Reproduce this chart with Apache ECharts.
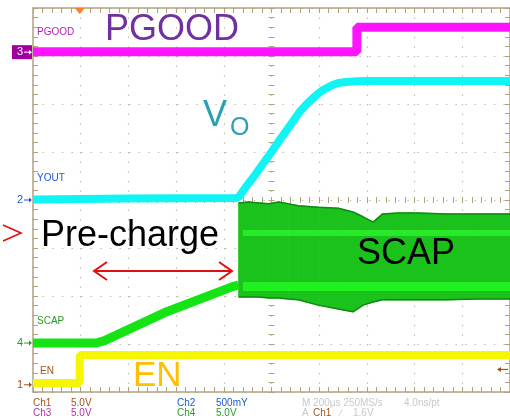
<!DOCTYPE html>
<html><head><meta charset="utf-8">
<script src="https://cdn.jsdelivr.net/npm/echarts@6/dist/echarts.min.js"></script>
<style>html,body{margin:0;padding:0;background:#fff;overflow:hidden}#c{width:510px;height:419px}</style>
</head><body><div id="c"></div>
<script>
// All values in screen divisions: x 0..10 (200us/div), y 0..8 from bottom
const pgoodX = [0, 6.79, 6.79, 10];
const pgoodY = [7.09, 7.09, 7.60, 7.60];
const voutX = [0, 2.0, 4.27, 4.33, 4.375, 4.5, 4.625, 4.81, 5.0, 5.15, 5.31, 5.46, 5.6, 5.75, 5.875, 5.98, 6.08, 6.19, 6.29, 6.42, 6.56, 6.8, 7.02, 10];
const voutY = [4.01, 4.03, 4.04, 4.08, 4.15, 4.32, 4.48, 4.74, 5.0, 5.22, 5.44, 5.65, 5.85, 6.01, 6.125, 6.22, 6.29, 6.35, 6.40, 6.44, 6.46, 6.475, 6.48, 6.48];
const scapX = [0, 1.33, 1.5, 2.75, 4.17, 4.31];
const scapY = [1.02, 1.02, 1.07, 1.65, 2.19, 2.23];
const enX = [0, 0.98, 0.98, 10];
const enY = [0.19, 0.19, 0.77, 0.77];
// SCAP switching band envelope after pre-charge
const bandX   = [4.31, 4.52, 4.73, 4.94, 5.15, 5.35, 5.56, 5.98, 6.40, 6.71, 6.92, 7.13, 7.33, 7.65, 8.06, 8.69, 9.31, 10];
const bandTop = [3.94, 3.96, 3.94, 3.92, 3.96, 3.92, 3.88, 3.85, 3.83, 3.75, 3.65, 3.54, 3.71, 3.73, 3.73, 3.71, 3.71, 3.71];
const bandBot = [1.98, 1.98, 1.98, 1.96, 1.96, 1.94, 1.92, 1.81, 1.73, 1.67, 1.81, 1.875, 1.92, 1.92, 1.92, 1.92, 1.94, 1.94];
const stripeX = [4.4, 10];
const stripeHi = [3.31, 3.31];
const stripeLo = [2.2, 2.2];
// channel ground reference levels (div): ch1, ch2, ch3, ch4
const refLevels = [0.15, 4.0, 7.08, 1.02];
const trigLevel = 0.47;
const trigPos = 0.98;

const zip = (a, b) => a.map((v, i) => [v, b[i]]);
const TICK = '#b0a27e', DOT = '#c6bdaa';
const FONT = '"Liberation Sans", Arial, sans-serif';

function xa(o) {
  return Object.assign({type:'value', min:0, max:10, interval:1, position:'bottom',
    axisLine:{show:true, onZero:false, lineStyle:{color:TICK, width:1.5}},
    axisTick:{show:true, inside:true, length:5, lineStyle:{color:TICK}},
    minorTick:{show:true, splitNumber:5, length:5, lineStyle:{color:TICK}},
    axisLabel:{show:false}, splitLine:{show:false}}, o);
}
function ya(o) {
  return Object.assign({type:'value', min:0, max:8, interval:1, position:'left',
    axisLine:{show:true, onZero:false, lineStyle:{color:TICK, width:1.5}},
    axisTick:{show:true, inside:true, length:5, lineStyle:{color:TICK}},
    minorTick:{show:true, splitNumber:5, length:5, lineStyle:{color:TICK}},
    axisLabel:{show:false}, splitLine:{show:false}}, o);
}
const dotted = {show:true, lineStyle:{color:DOT, type:[1.5, 8.1], width:1.2}};
const centerLine = {show:true, onZeroAxisIndex:2, onZero:true, lineStyle:{color:'rgba(0,0,0,0)'}};
const cTick = (inside) => ({axisTick:{inside, length:3, lineStyle:{color:TICK}}, minorTick:{show:true, splitNumber:5, length:3, lineStyle:{color:TICK}}});

const chart = echarts.init(document.getElementById('c'));
const line = (name, x, y, color, width, extra) => Object.assign({
  name, type:'line', data: zip(x, y), symbol:'none', silent:true,
  xAxisIndex:0, yAxisIndex:0, lineStyle:{color, width}, z:3}, extra || {});

const BAND = '#1cc21c';
chart.setOption({
  animation:false,
  backgroundColor:'#fff',
  grid:{left:33, top:8, width:480, height:384, show:false},
  xAxis:[
    xa({splitLine:dotted}),
    xa({position:'top'}),
    xa(Object.assign({min:-5, max:5, axisLine:centerLine}, cTick(true))),
    xa(Object.assign({min:-5, max:5, axisLine:centerLine}, cTick(false)))
  ],
  yAxis:[
    ya({splitLine:dotted}),
    ya({position:'right'}),
    ya(Object.assign({min:-4, max:4, axisLine:centerLine}, cTick(true))),
    ya(Object.assign({min:-4, max:4, axisLine:centerLine}, cTick(false)))
  ],
  series:[
    line('PGOOD', pgoodX, pgoodY, '#ff14ff', 9),
    line('VOUT', voutX, voutY, '#10f4f4', 8),
    line('SCAP', scapX, scapY, '#14e414', 9),
    line('EN', enX, enY, '#f6f600', 8),
    {
      name:'SCAP band', type:'custom', xAxisIndex:0, yAxisIndex:0, silent:true, z:2,
      data: bandX.map((x, i) => [x, bandTop[i], bandBot[i]]),
      encode:{x:0, y:[1, 2]},
      renderItem(params, api) {
        const i = params.dataIndex;
        if (i >= bandX.length - 1) return null;
        const pts = [
          api.coord([bandX[i], bandTop[i]]), api.coord([bandX[i + 1], bandTop[i + 1]]),
          api.coord([bandX[i + 1], bandBot[i + 1]]), api.coord([bandX[i], bandBot[i]])
        ];
        return {type:'polygon', shape:{points:pts}, style:{fill:BAND, stroke:BAND, lineWidth:0.8}};
      }
    },
    line('SCAP band top', bandX, bandTop, '#0e8a0e', 1.5),
    line('SCAP band bottom', bandX, bandBot, '#0e8a0e', 1.5),
    line('SCAP stripe hi', stripeX, stripeHi, '#28ea28', 6, {z:4}),
    line('SCAP stripe lo', stripeX, stripeLo, '#20f020', 9, {z:4})
  ]
});

const P = (x, y) => chart.convertToPixel({seriesIndex:0}, [x, y]);
const txt = (text, x, y, size, fill, extra) => Object.assign({type:'text', z:100,
  style:{text, x, y, fill, font: size + 'px ' + FONT, verticalAlign:'middle', align:'left'}}, extra || {});
const arrow = (x, y, color) => ({type:'polyline', z:100, shape:{points:[[x, y], [x + 7, y]]},
  style:{stroke:color, lineWidth:1}});
const head = (x, y, color) => ({type:'polygon', z:100, shape:{points:[[x + 8, y], [x + 5, y - 2.5], [x + 5, y + 2.5]]},
  style:{fill:color}});

const chColors = ['#a0521e', '#2058d0', '#ffffff', '#2a9a2a'];
const g = [];
refLevels.forEach((lv, i) => {
  const y = P(0, lv)[1];
  if (i === 2) g.push({type:'rect', z:99, shape:{x:12, y:y - 7, width:20, height:14}, style:{fill:'#a000a0'}});
  g.push(txt(String(i + 1), 17, y, 11, chColors[i]));
  g.push(arrow(24, y, chColors[i]));
  g.push(head(24, y, chColors[i]));
});
// trigger markers
const ty = P(10, trigLevel)[1];
g.push({type:'polyline', z:100, shape:{points:[[498, ty], [508, ty]]}, style:{stroke:'#a0521e', lineWidth:1.2}});
g.push({type:'polygon', z:100, shape:{points:[[497, ty], [501, ty - 2.5], [501, ty + 2.5]]}, style:{fill:'#a0521e'}});
const tx = P(trigPos, 8)[0];
g.push({type:'polygon', z:100, shape:{points:[[tx - 5, 8], [tx + 5, 8], [tx, 14]]}, style:{fill:'#ff7f27'}});

// channel labels
g.push(txt('PGOOD', 37, 32, 10, '#b020b0'));
g.push(txt('YOUT', 37, 178, 10, '#2058d0'));
g.push(txt('SCAP', 37, 321, 10, '#2a9a2a'));
g.push(txt('EN', 40, 371, 10, '#a0521e'));

// annotations
g.push(txt('PGOOD', 105, 30, 36, '#7030a0'));
g.push(txt('V', 203, 116, 36, '#2aa0b4'));
g.push(txt('O', 230, 128, 25, '#2aa0b4'));
g.push(txt('Pre-charge', 41, 236, 36, '#000'));
g.push(txt('SCAP', 357, 254, 36, '#000'));
g.push(txt('EN', 133, 376, 35, '#ffc000'));
// red double arrow
const red = '#e01010';
g.push({type:'polyline', z:100, shape:{points:[[94, 271], [232, 271]]}, style:{stroke:red, lineWidth:2}});
g.push({type:'polyline', z:100, shape:{points:[[107, 262], [94, 271], [107, 280]]}, style:{stroke:red, lineWidth:2, fill:null}});
g.push({type:'polyline', z:100, shape:{points:[[219, 262], [232, 271], [219, 280]]}, style:{stroke:red, lineWidth:2, fill:null}});
g.push({type:'polyline', z:100, shape:{points:[[3, 225], [21, 233], [3, 241]]}, style:{stroke:red, lineWidth:1.6, fill:null}});

// bottom readout
const r1 = 403, r2 = 413.5, fs = 10;
g.push(txt('Ch1', 33, r1, fs, '#a0521e'));
g.push(txt('5.0V', 71, r1, fs, '#a0521e'));
g.push(txt('Ch3', 33, r2, fs, '#b030b0'));
g.push(txt('5.0V', 71, r2, fs, '#b030b0'));
g.push(txt('Ch2', 177, r1, fs, '#2058d0'));
g.push(txt('500mY', 216, r1, fs, '#2058d0'));
g.push(txt('Ch4', 177, r2, fs, '#2a9a2a'));
g.push(txt('5.0V', 216, r2, fs, '#2a9a2a'));
g.push(txt('M 200µs 250MS/s', 302, r1, fs, '#c8c8c8'));
g.push(txt('4.0ns/pt', 404, r1, fs, '#c8c8c8'));
g.push(txt('A', 302, r2, fs, '#c8c8c8'));
g.push(txt('Ch1', 313, r2, fs, '#a0521e'));
g.push(txt('∕', 340, r2, fs, '#c8c8c8'));
g.push(txt('1.6V', 353, r2, fs, '#c8c8c8'));

chart.setOption({graphic: g});
</script></body></html>
